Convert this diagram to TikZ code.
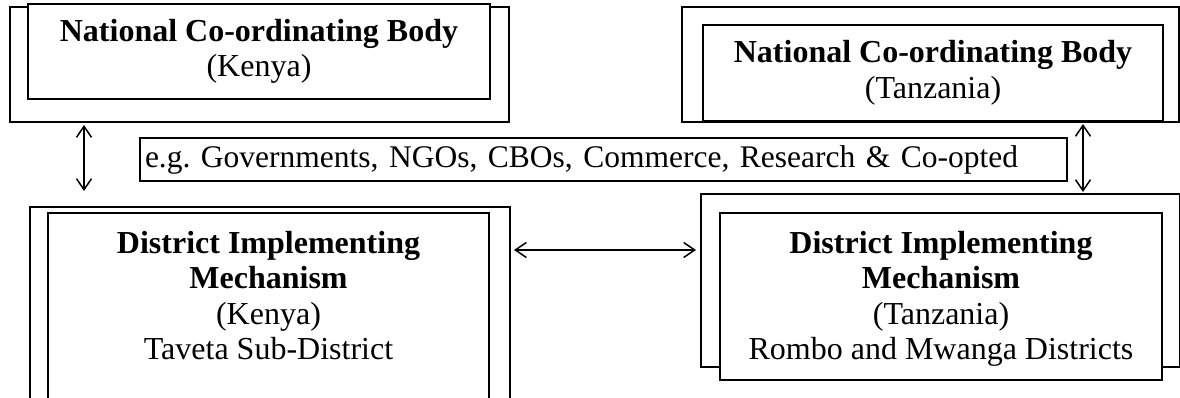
\documentclass[tikz,border=0pt]{standalone}
\usepackage{fontspec}
\setmainfont{Liberation Serif}
\usetikzlibrary{positioning,arrows.meta}
\frenchspacing

\tikzset{
  frame/.style={draw,line width=2pt,fill=white,rectangle,inner sep=0pt},
  link/.style={{Straight Barb[length=11pt,width=15pt]}-{Straight Barb[length=11pt,width=15pt]},line width=1.5pt},
}

\begin{document}
\begin{tikzpicture}[x=1pt,y=-1pt,font=\fontsize{32}{35.5}\selectfont]
  \clip (0,0) rectangle (1180,398);

  % national bodies
  \node[frame,minimum width=499pt,minimum height=115pt] (knOut) at (259.5,64.5) {};
  \node[frame,minimum width=462pt,minimum height=95pt,align=center] (knIn) at (259,51.5) {\textbf{National Co-ordinating Body}\\(Kenya)};
  \node[frame,minimum width=497pt,minimum height=115pt] (tzOut) at (930.5,64.5) {};
  \node[frame,minimum width=460pt,minimum height=96pt,align=center] (tzIn) at (933,73) {\textbf{National Co-ordinating Body}\\(Tanzania)};

  % members
  \node[frame,minimum height=43pt,text width=917pt,inner xsep=5pt,align=left,font=\fontsize{31.5}{35}\selectfont] (members) at (603.5,159.5) {e.g. Governments, NGOs, CBOs, Commerce, Research \& Co-opted};

  % district mechanisms
  \node[frame,minimum width=480pt,minimum height=223pt] (kdOut) at (270,318.5) {};
  \node[frame,minimum width=441pt,minimum height=217pt] (kdIn) at (268.5,321.5) {};
  \node[inner sep=0pt,align=center,below=19pt of kdIn.north] (kdText) {\textbf{District Implementing}\\\textbf{Mechanism}\\(Kenya)\\Taveta Sub-District};
  \node[frame,minimum width=479pt,minimum height=173pt] (tdOut) at (940.5,280.5) {};
  \node[frame,minimum width=442pt,minimum height=167pt] (tdIn) at (941,296.5) {};
  \node[inner sep=0pt,align=center,below=19pt of tdIn.north] (tdText) {\textbf{District Implementing}\\\textbf{Mechanism}\\(Tanzania)\\Rombo and Mwanga Districts};

  %kn<->kd
  \draw[link] ([xshift=75pt,yshift=-2pt]knOut.south west) -- ([xshift=55pt,yshift=15pt]kdOut.north west);
  %tz<->td
  \draw[link] ([xshift=402pt,yshift=-1pt]tzOut.south west) -- ([xshift=383pt,yshift=1pt]tdOut.north west);
  %kd<->td
  \draw[link] ([xshift=3pt,yshift=-44pt]kdOut.north east) -- ([xshift=-4pt,yshift=-57pt]tdOut.north west);
\end{tikzpicture}
\end{document}
